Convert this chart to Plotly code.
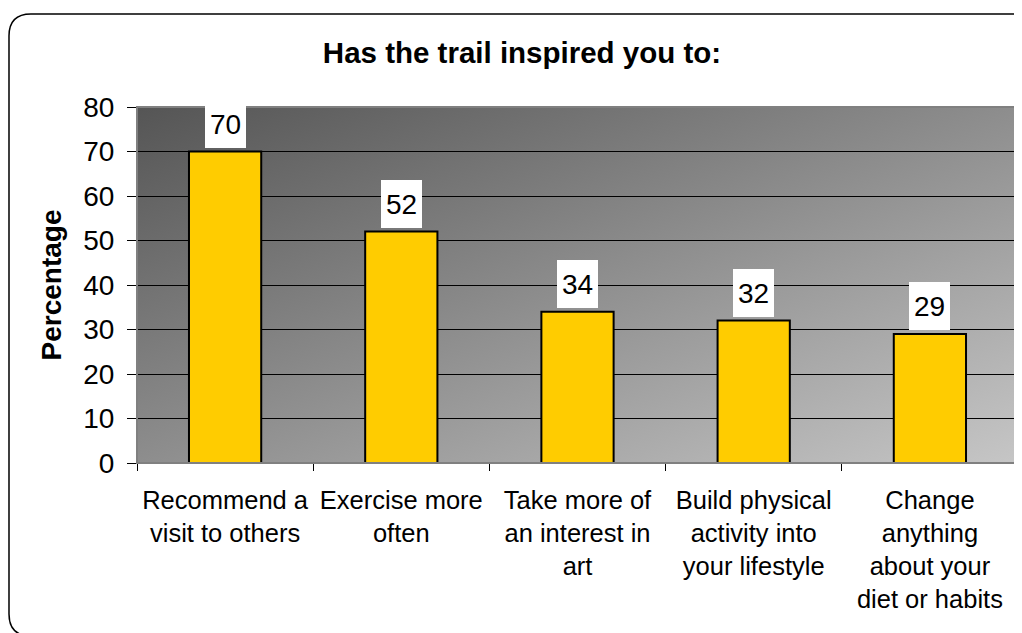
import base64

import plotly.graph_objects as go

# Survey answers, percentage of respondents
categories = [
    "Recommend a<br>visit to others",
    "Exercise more<br>often",
    "Take more of<br>an interest in<br>art",
    "Build physical<br>activity into<br>your lifestyle",
    "Change<br>anything<br>about your<br>diet or habits",
]
percentages = [70, 52, 34, 32, 29]
y_ticks = [0, 10, 20, 30, 40, 50, 60, 70, 80]

FONT = "Liberation Sans, Arial, sans-serif"
BAR_COLOR = "#FFCC00"

# the page body has an 8px margin, so shrink the figure to fit the window
PAGE_OFF = 8
W, H = 1022 - PAGE_OFF, 633 - PAGE_OFF
# plot area in page pixels: x 137..1018, y 107..463
L, R, T, B = 137 - PAGE_OFF, 4, 107 - PAGE_OFF, 170
PW, PH = W - L - R, H - T - B


def to_paper(px, py):
    """Page pixel -> paper coordinates."""
    return (px - PAGE_OFF - L) / PW, (H - B - (py - PAGE_OFF)) / PH


def rounded_frame(x0, y0, x1, y1, r):
    def p(x, y):
        X, Y = to_paper(x, y)
        return f"{X:.5f},{Y:.5f}"

    return " ".join([
        f"M {p(x0 + r, y0)}",
        f"L {p(x1 - r, y0)}",
        f"Q {p(x1, y0)} {p(x1, y0 + r)}",
        f"L {p(x1, y1 - r)}",
        f"Q {p(x1, y1)} {p(x1 - r, y1)}",
        f"L {p(x0 + r, y1)}",
        f"Q {p(x0, y1)} {p(x0, y1 - r)}",
        f"L {p(x0, y0 + r)}",
        f"Q {p(x0, y0)} {p(x0 + r, y0)}",
        "Z",
    ])


# diagonal grey gradient for the plot background
svg = (
    '<svg xmlns="http://www.w3.org/2000/svg" width="100" height="100" '
    'preserveAspectRatio="none" viewBox="0 0 100 100">'
    '<defs><linearGradient id="g" x1="0" y1="0" x2="1" y2="1">'
    '<stop offset="0" stop-color="#555555"/>'
    '<stop offset="1" stop-color="#c6c6c6"/>'
    "</linearGradient></defs>"
    '<rect width="100" height="100" fill="url(#g)"/></svg>'
)
bg_src = "data:image/svg+xml;base64," + base64.b64encode(svg.encode()).decode()

fig = go.Figure()

fig.add_trace(
    go.Bar(
        x=categories,
        y=percentages,
        marker={"color": BAR_COLOR, "line": {"color": "black", "width": 2}},
        hoverinfo="x+y",
    )
)

for cat, val in zip(categories, percentages):
    fig.add_annotation(
        x=cat,
        y=val,
        text=str(val),
        showarrow=False,
        yanchor="bottom",
        yshift=4,
        bgcolor="white",
        borderwidth=0,
        borderpad=0,
        width=41,
        height=48,
        font={"family": FONT, "size": 28, "color": "black"},
    )

fig.update_layout(
    width=W,
    height=H,
    margin={"l": L, "r": R, "t": T, "b": B},
    paper_bgcolor="white",
    plot_bgcolor="#8d8d8d",
    showlegend=False,
    bargap=0.59,
    font={"family": FONT, "color": "black"},
    title={
        "text": "<b>Has the trail inspired you to:</b>",
        "x": 0.437,
        "xanchor": "center",
        "xref": "paper",
        "y": 1 - (63 - PAGE_OFF) / H,
        "yanchor": "bottom",
        "font": {"size": 29.5, "family": FONT},
    },
    xaxis={
        "type": "category",
        "tickson": "boundaries",
        "ticks": "outside",
        "ticklen": 7,
        "tickcolor": "black",
        "showline": True,
        "linecolor": "black",
        "linewidth": 1,
        "showgrid": False,
        "tickfont": {"size": 25.5, "family": FONT},
        "ticklabelstandoff": 14,
    },
    yaxis={
        "range": [0, 80],
        "tickvals": y_ticks,
        "ticks": "outside",
        "ticklen": 9,
        "tickcolor": "black",
        "showline": True,
        "linecolor": "black",
        "linewidth": 1,
        "showgrid": True,
        "gridcolor": "black",
        "gridwidth": 1,
        "zeroline": False,
        "tickfont": {"size": 28, "family": FONT},
        "ticklabelstandoff": 7,
        "title": {
            "text": "<b>Percentage</b>",
            "font": {"size": 28, "family": FONT},
            "standoff": 13,
        },
    },
    images=[
        {
            "source": bg_src,
            "xref": "paper",
            "yref": "paper",
            "x": 0,
            "y": 1,
            "sizex": 1,
            "sizey": 1,
            "xanchor": "left",
            "yanchor": "top",
            "sizing": "stretch",
            "layer": "below",
        }
    ],
    shapes=[
        # thin grey border round the plot area
        {
            "type": "rect",
            "xref": "paper",
            "yref": "paper",
            "x0": 0,
            "x1": 1,
            "y0": 0,
            "y1": 1,
            "line": {"color": "#808080", "width": 2},
            "layer": "above",
        },
        # rounded chart frame
        {
            "type": "path",
            "xref": "paper",
            "yref": "paper",
            "path": rounded_frame(9, 14, 1036, 636, 22),
            "line": {"color": "black", "width": 1.5},
            "layer": "above",
        },
    ],
)

fig.write_html("out.html")
